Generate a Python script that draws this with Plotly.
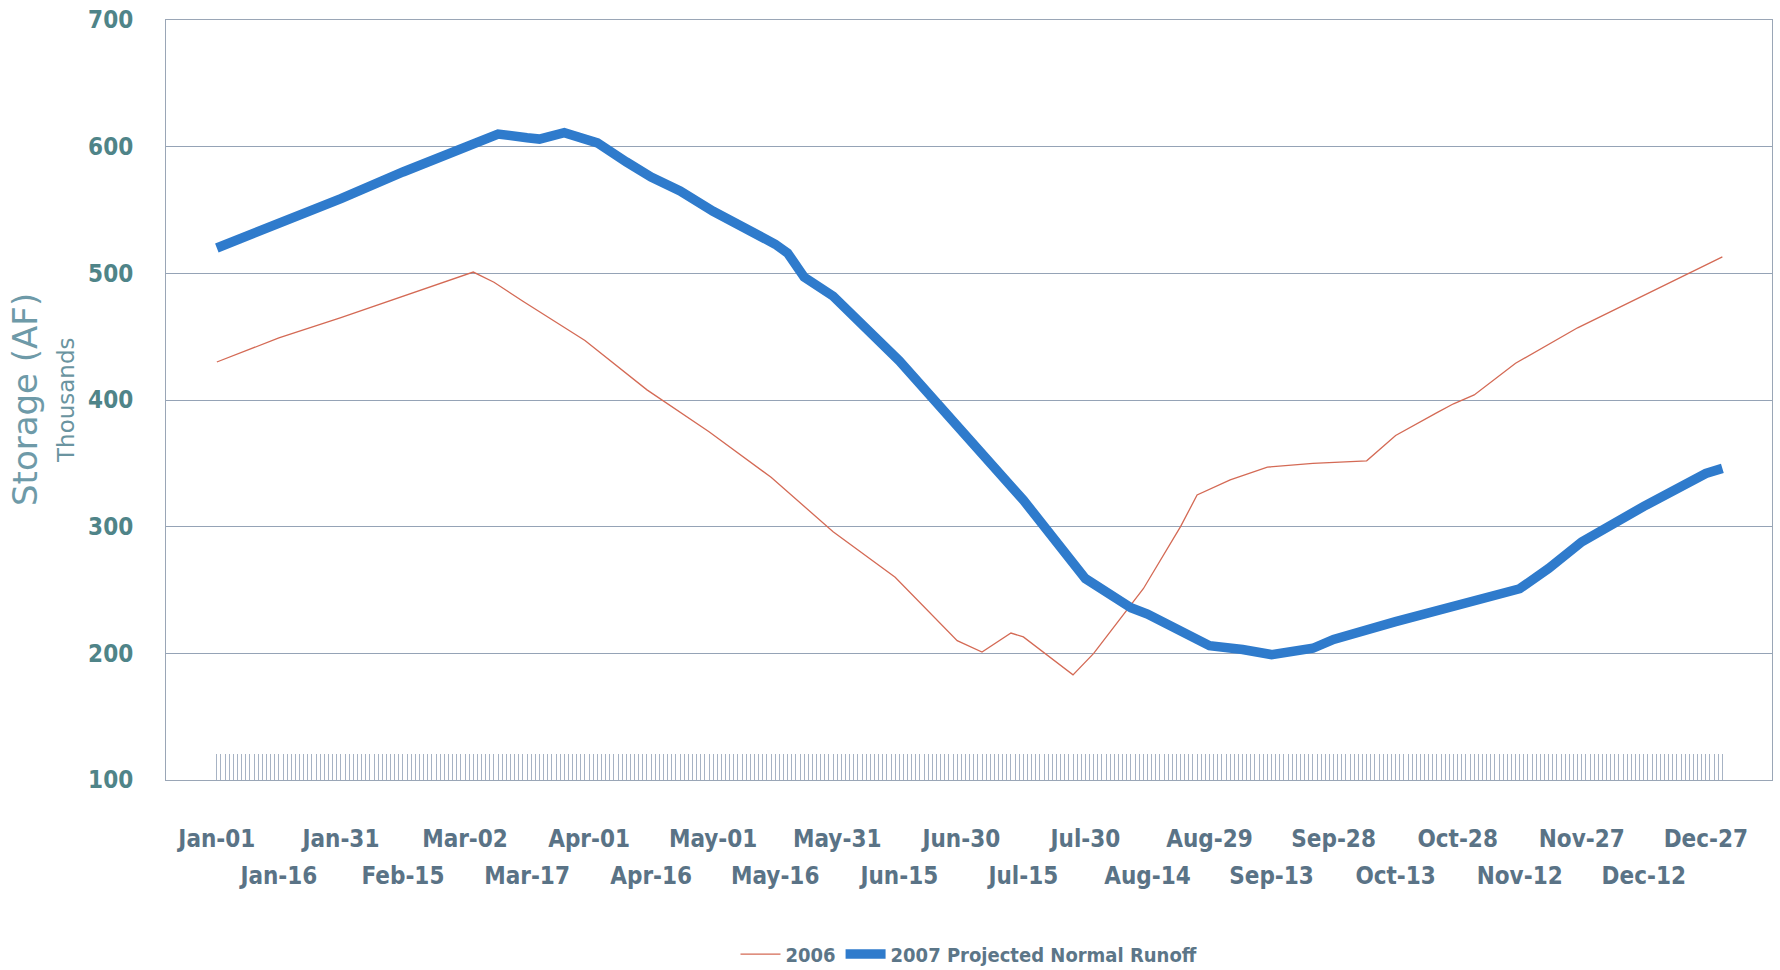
import pandas as pd
import plotly.graph_objects as go

# Reservoir storage, thousands of acre-feet
DATES_2006 = [
    "01-01", "01-16", "01-31", "02-15", "02-27", "03-04", "03-09", "03-16",
    "03-31", "04-15", "04-30", "05-15", "05-30", "06-14", "06-29", "07-05",
    "07-12", "07-15", "07-27", "08-01", "08-13", "08-22", "08-26", "09-03",
    "09-12", "09-23", "10-06", "10-13", "10-23", "10-27", "11-01", "11-11",
    "11-26", "12-11", "12-31",
]
STORAGE_2006 = [
    430, 449, 465, 482, 495, 501, 493, 478,
    447, 408, 375, 339, 296, 260, 210, 201,
    216, 213, 183, 200, 251, 300, 325, 337,
    347, 350, 352, 372, 390, 397, 404, 429,
    457, 481, 513,
]

DATES_2007 = [
    "01-01", "01-16", "01-31", "02-15", "02-27", "03-10", "03-17", "03-20",
    "03-26", "04-03", "04-10", "04-16", "04-23", "05-01", "05-16", "05-19",
    "05-23", "05-30", "06-15", "06-30", "07-15", "07-30", "08-10", "08-14",
    "08-29", "09-06", "09-13", "09-23", "09-28", "10-13", "10-28", "11-12",
    "11-19", "11-27", "12-12", "12-27", "12-31",
]
STORAGE_2007 = [
    520, 539, 559, 580, 596, 610, 607, 606,
    611, 603, 588, 576, 565, 549, 523, 516,
    497, 482, 431, 377, 321, 259, 236, 231,
    206, 203, 199, 204, 211, 225, 238, 251,
    267, 288, 316, 342, 346,
]

TICK_LABELS = [
    "Jan-01", "Jan-16", "Jan-31", "Feb-15", "Mar-02", "Mar-17", "Apr-01",
    "Apr-16", "May-01", "May-16", "May-31", "Jun-15", "Jun-30", "Jul-15",
    "Jul-30", "Aug-14", "Aug-29", "Sep-13", "Sep-28", "Oct-13", "Oct-28",
    "Nov-12", "Nov-27", "Dec-12", "Dec-27",
]
Y_TICKS = [100, 200, 300, 400, 500, 600, 700]

YEAR = "2007"
X_RANGE = ["2006-12-19 17:00", "2008-01-12"]


def to_dates(md):
    return [f"{YEAR}-{d}" for d in md]


# one tick per day along the category axis; labels every 15 days on two rows
days = pd.date_range(f"{YEAR}-01-01", f"{YEAR}-12-31", freq="D")
upper = {i * 15: lab for i, lab in enumerate(TICK_LABELS) if i % 2 == 0}
upper_text = [upper.get(i, "") for i in range(len(days))]
lower_vals = [days[i * 15] for i in range(len(TICK_LABELS)) if i % 2 == 1]
lower_text = [lab for i, lab in enumerate(TICK_LABELS) if i % 2 == 1]

NARROW = "Liberation Sans Narrow, DejaVu Sans Condensed, Arial Narrow, Liberation Sans"
XFONT = dict(family=NARROW, size=24, color="#5a7386", weight="bold")

fig = go.Figure()
fig.add_trace(go.Scatter(
    x=to_dates(DATES_2006), y=STORAGE_2006, mode="lines", name="2006",
    line=dict(color="#d46a55", width=1.3),
))
fig.add_trace(go.Scatter(
    x=to_dates(DATES_2007), y=STORAGE_2007, mode="lines",
    name="2007 Projected Normal Runoff",
    line=dict(color="#2f7bcc", width=9.5),
))
# empty trace so the second row of date labels gets drawn
fig.add_trace(go.Scatter(
    x=[], y=[], xaxis="x2", yaxis="y", mode="lines",
    showlegend=False, hoverinfo="skip",
))

fig.update_layout(
    width=1780, height=970,
    margin=dict(l=166, r=8, t=20, b=190, autoexpand=False),
    paper_bgcolor="white", plot_bgcolor="white",
    showlegend=True,
    legend=dict(
        orientation="h", x=0.5, xanchor="center", y=-0.229, yanchor="middle",
        font=dict(family=NARROW, size=20, color="#5c7688", weight="bold"),
        itemwidth=40, bgcolor="rgba(0,0,0,0)",
    ),
    xaxis=dict(
        type="date", range=X_RANGE, automargin=False,
        tickmode="array", tickvals=days, ticktext=upper_text,
        tickangle=0,
        ticks="inside", ticklen=26, tickwidth=1, tickcolor="#a7b3c4",
        tickfont=XFONT, ticklabelstandoff=37,
        showgrid=False, zeroline=False,
        showline=True, mirror=True, linecolor="#9aa6b6", linewidth=1,
    ),
    xaxis2=dict(
        type="date", range=X_RANGE, overlaying="x", anchor="y", side="bottom",
        automargin=False,
        tickmode="array", tickvals=lower_vals, ticktext=lower_text,
        tickangle=0, ticks="",
        tickfont=XFONT, ticklabelstandoff=79,
        showgrid=False, zeroline=False, showline=False,
    ),
    yaxis=dict(
        range=[100, 700], tickmode="array", tickvals=Y_TICKS, automargin=False,
        ticks="", ticklabelstandoff=27,
        tickfont=dict(family=NARROW, size=24, color="#4f8488", weight="bold"),
        showgrid=True, gridcolor="#95a3b6", gridwidth=1,
        zeroline=False,
        showline=True, mirror=True, linecolor="#9aa6b6", linewidth=1,
    ),
    annotations=[
        dict(text="Storage (AF)", x=0, y=0.5, xref="paper", yref="paper",
             xanchor="center", yanchor="middle", xshift=-141, textangle=-90,
             showarrow=False,
             font=dict(family="DejaVu Sans, Liberation Sans", size=34,
                       color="#6e9aa8")),
        dict(text="Thousands", x=0, y=0.5, xref="paper", yref="paper",
             xanchor="center", yanchor="middle", xshift=-100, textangle=-90,
             showarrow=False,
             font=dict(family="DejaVu Sans, Liberation Sans", size=23,
                       color="#6a94a0")),
    ],
)

fig.write_html("out.html")
